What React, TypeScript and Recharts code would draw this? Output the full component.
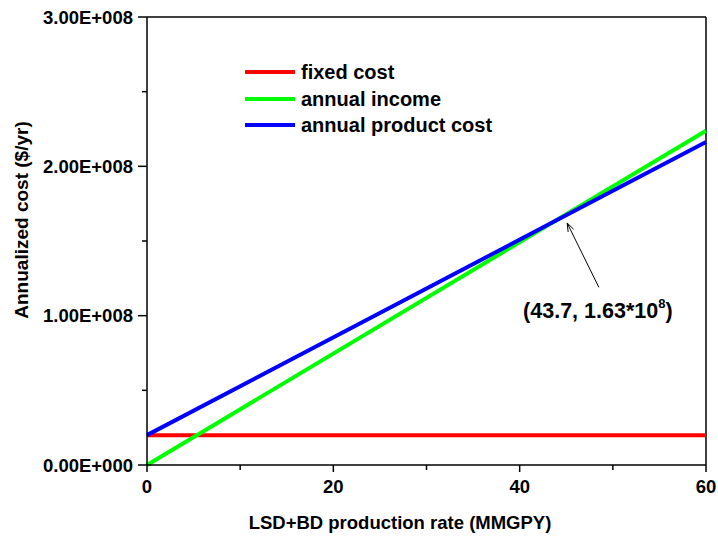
import React from 'react';
import { LineChart, Line, XAxis, YAxis, ReferenceLine } from 'recharts';

// production rate (MMGPY)
const rates = [0, 43.7, 60];
const fixedCost = [2.0e7, 2.0e7, 2.0e7];
const annualIncome = [0, 1.63e8, 2.238e8];
const annualProductCost = [2.0e7, 1.63e8, 2.163e8];

const xTicks = [0, 10, 20, 30, 40, 50, 60];
const xLabels = [0, 20, 40, 60];
const yTicks = [0, 0.5e8, 1e8, 1.5e8, 2e8, 2.5e8, 3e8];
const yLabels = [0, 1e8, 2e8, 3e8];

const seriesNames = ['fixed cost', 'annual income', 'annual product cost'];
const seriesColors = ['#ff0000', '#00ff00', '#0000ff'];

// arrow annotation: from label to the crossing point
const arrowFrom = { x: 48.5, y: 1.19e8 };
const arrowTo = { x: 45.1, y: 1.62e8 };
const crossLabel = { x: '43.7', y: '1.63*10', exp: '8' };

const FONT = '"Liberation Sans", Arial, Helvetica, sans-serif';

const data = rates.map((r, i) => ({
  rate: r,
  fixed: fixedCost[i],
  income: annualIncome[i],
  product: annualProductCost[i],
}));

const fmtSci = (v: number) => {
  if (v === 0) return '0.00E+000';
  const e = Math.floor(Math.log10(v));
  const m = v / Math.pow(10, e);
  return `${m.toFixed(2)}E+${String(e).padStart(3, '0')}`;
};

const XTick = ({ x, y, payload }: any) => {
  const major = xLabels.includes(payload.value);
  return (
    <g>
      <line x1={x} x2={x} y1={y} y2={y + (major ? 7 : 5)} stroke="#000" strokeWidth={1.5} />
      {major && (
        <text x={x} y={y + 28} textAnchor="middle" fontFamily={FONT} fontWeight="bold" fontSize={18.5} fill="#000">
          {payload.value}
        </text>
      )}
    </g>
  );
};

const YTick = ({ x, y, payload }: any) => {
  const major = yLabels.includes(payload.value);
  return (
    <g>
      <line x1={x - (major ? 9 : 5)} x2={x} y1={y} y2={y} stroke="#000" strokeWidth={1.5} />
      {major && (
        <text x={x - 14} y={y + 6.5} textAnchor="end" fontFamily={FONT} fontWeight="bold" fontSize={18.5} fill="#000">
          {fmtSci(payload.value)}
        </text>
      )}
    </g>
  );
};

const ArrowShape = (props: any) => {
  const { x1, y1, x2, y2 } = props;
  if (x1 == null) return null;
  const ang = Math.atan2(y2 - y1, x2 - x1);
  const len = 9;
  const w = 0.35;
  const p1 = [x2 - len * Math.cos(ang - w), y2 - len * Math.sin(ang - w)];
  const p2 = [x2 - len * Math.cos(ang + w), y2 - len * Math.sin(ang + w)];
  return (
    <g>
      <line x1={x1} y1={y1} x2={x2} y2={y2} stroke="#000" strokeWidth={1} />
      <path d={`M${p1[0]},${p1[1]} L${x2},${y2} L${p2[0]},${p2[1]}`} fill="none" stroke="#000" strokeWidth={1} />
      <text x={x1 - 1} y={y1 + 31} textAnchor="middle" fontFamily={FONT} fontWeight="bold" fontSize={21.5} fill="#000">
        ({crossLabel.x}, {crossLabel.y}
        <tspan fontSize={13} dy={-10}>{crossLabel.exp}</tspan>
        <tspan dy={10}>)</tspan>
      </text>
    </g>
  );
};

const LegendBox = () => (
  <div
    style={{
      position: 'absolute', left: 245, top: 59, fontFamily: FONT, fontWeight: 'bold', fontSize: 20,
      lineHeight: '26.5px', color: '#000',
    }}
  >
    {seriesNames.map((n, i) => (
      <div key={n} style={{ display: 'flex', alignItems: 'center', whiteSpace: 'nowrap' }}>
        <span style={{ display: 'inline-block', width: 50, height: 4, background: seriesColors[i], marginRight: 6 }} />
        <span>{n}</span>
      </div>
    ))}
  </div>
);

export default function App() {
  return (
    <div style={{ position: 'absolute', left: 0, top: 0, width: 718, height: 541, background: '#fff' }}>
      <LineChart width={718} height={541} data={data} margin={{ top: 17, right: 12, bottom: 0, left: 0 }}>
        <XAxis
          dataKey="rate"
          type="number"
          domain={[0, 60]}
          ticks={xTicks}
          interval={0}
          tickLine={false}
          tickSize={0}
          tickMargin={0}
          height={76}
          axisLine={{ stroke: '#000', strokeWidth: 1.5 }}
          tick={<XTick />}
        />
        <YAxis
          type="number"
          domain={[0, 3e8]}
          ticks={yTicks}
          interval={0}
          tickLine={false}
          tickSize={0}
          tickMargin={0}
          width={147}
          axisLine={{ stroke: '#000', strokeWidth: 1.5 }}
          tick={<YTick />}
        />
        <ReferenceLine y={3e8} stroke="#000" strokeWidth={1.5} />
        <ReferenceLine x={60} stroke="#000" strokeWidth={1.5} />
        <Line dataKey="fixed" name={seriesNames[0]} stroke={seriesColors[0]} strokeWidth={4} dot={false} isAnimationActive={false} />
        <Line dataKey="income" name={seriesNames[1]} stroke={seriesColors[1]} strokeWidth={4} dot={false} isAnimationActive={false} />
        <Line dataKey="product" name={seriesNames[2]} stroke={seriesColors[2]} strokeWidth={4} dot={false} isAnimationActive={false} />
        <ReferenceLine segment={[arrowFrom, arrowTo]} shape={<ArrowShape />} ifOverflow="visible" />
      </LineChart>
      <LegendBox />
      <div
        style={{
          position: 'absolute', left: 400, top: 512, transform: 'translateX(-50%)', whiteSpace: 'nowrap',
          fontFamily: FONT, fontWeight: 'bold', fontSize: 18.5, color: '#000',
        }}
      >
        LSD+BD production rate (MMGPY)
      </div>
      <div
        style={{
          position: 'absolute', left: 22, top: 220, transform: 'translate(-50%, -50%) rotate(-90deg)', whiteSpace: 'nowrap',
          fontFamily: FONT, fontWeight: 'bold', fontSize: 19, color: '#000',
        }}
      >
        Annualized cost ($/yr)
      </div>
    </div>
  );
}
